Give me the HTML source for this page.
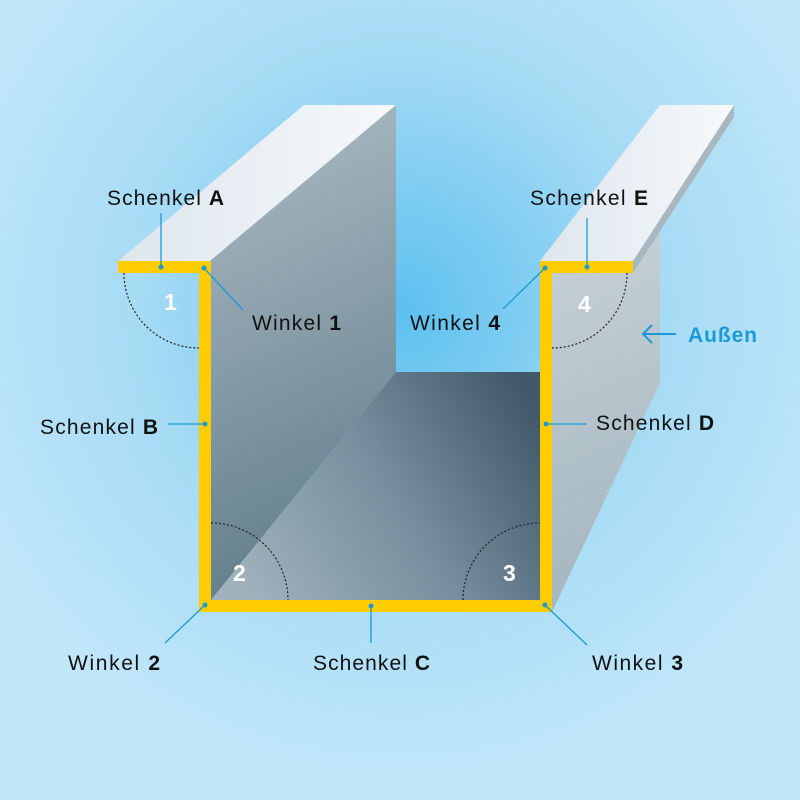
<!DOCTYPE html>
<html><head><meta charset="utf-8"><style>
html,body{margin:0;padding:0}
body{width:800px;height:800px;overflow:hidden}
text{font-family:"Liberation Sans",sans-serif;font-size:21px;fill:#111}
</style></head><body>
<svg width="800" height="800" viewBox="0 0 800 800">
<defs>
<radialGradient id="bg" cx="400" cy="310" r="470" gradientUnits="userSpaceOnUse">
<stop offset="0" stop-color="#5cc0ef"/><stop offset="0.55" stop-color="#a6dbf5"/><stop offset="1" stop-color="#c0e6f9"/></radialGradient>
<linearGradient id="top" x1="0" y1="0" x2="1" y2="0"><stop offset="0" stop-color="#dde6ec"/><stop offset="1" stop-color="#f7f9fb"/></linearGradient>
<linearGradient id="wall" x1="211" y1="150" x2="396" y2="560" gradientUnits="userSpaceOnUse"><stop offset="0" stop-color="#a7b8c0"/><stop offset="1" stop-color="#5f7b89"/></linearGradient>
<linearGradient id="floor" x1="250" y1="600" x2="540" y2="420" gradientUnits="userSpaceOnUse"><stop offset="0" stop-color="#9fb2bc"/><stop offset="0.5" stop-color="#7890a0"/><stop offset="1" stop-color="#42596a"/></linearGradient>
<linearGradient id="outer" x1="552" y1="280" x2="660" y2="560" gradientUnits="userSpaceOnUse"><stop offset="0" stop-color="#c2ced4"/><stop offset="1" stop-color="#a5b7c0"/></linearGradient>
</defs>
<rect width="800" height="800" fill="url(#bg)"/>
<polygon points="118,261 210,261 396,105 304,105" fill="url(#top)"/>
<polygon points="210,261 396,105 396,372 211,600" fill="url(#wall)"/>
<polygon points="211,600 396,372 540,372 540,600" fill="url(#floor)"/>
<polygon points="552,273 633,273 660,232 660,383 552,612" fill="url(#outer)"/>
<polygon points="633,261 734,105 734,117 633,273" fill="#a9b8c0"/>
<polygon points="540,261 633,261 734,105 660,105" fill="url(#top)"/>
<g fill="#ffcc00">
<rect x="118" y="261" width="93" height="12"/>
<rect x="199" y="261" width="12" height="351"/>
<rect x="199" y="600" width="353" height="12"/>
<rect x="540" y="261" width="12" height="351"/>
<rect x="540" y="261" width="93" height="12"/>
</g>
<g fill="none" stroke="#222" stroke-width="1.2" stroke-dasharray="2,2">
<path d="M124,273 A75,75 0 0 0 199,348"/>
<path d="M211,523 A77,77 0 0 1 288,600"/>
<path d="M463,600 A77,77 0 0 1 540,523"/>
<path d="M627,273 A75,75 0 0 1 552,348"/>
</g>
<g style="font-size:23px">
<text x="164" y="310" style="fill:#fff;font-weight:bold;font-size:23px">1</text>
<text x="233" y="581" style="fill:#fff;font-weight:bold;font-size:23px">2</text>
<text x="503" y="581" style="fill:#fff;font-weight:bold;font-size:23px">3</text>
<text x="578" y="312" style="fill:#fff;font-weight:bold;font-size:23px">4</text>
</g>
<g stroke="#1a9ad6" stroke-width="1.3">
<line x1="161" y1="213" x2="161" y2="267"/>
<line x1="204" y1="268" x2="243" y2="310"/>
<line x1="168" y1="424" x2="205" y2="424"/>
<line x1="587" y1="218" x2="587" y2="267"/>
<line x1="545" y1="268" x2="503" y2="309"/>
<line x1="546" y1="424" x2="587" y2="424"/>
<line x1="205" y1="605" x2="165" y2="643"/>
<line x1="371" y1="606" x2="371" y2="643"/>
<line x1="545" y1="605" x2="587" y2="645"/>
<line x1="643" y1="334" x2="676" y2="334" stroke-width="2"/>
<polyline points="652,325 643,334 652,343" fill="none" stroke-width="2"/>
</g>
<g fill="#1a9ad6">
<circle cx="161" cy="267" r="2.5"/><circle cx="204" cy="268" r="2.5"/><circle cx="205" cy="424" r="2.5"/>
<circle cx="587" cy="267" r="2.5"/><circle cx="545" cy="268" r="2.5"/><circle cx="546" cy="424" r="2.5"/>
<circle cx="205" cy="605" r="2.5"/><circle cx="371" cy="606" r="2.5"/><circle cx="545" cy="605" r="2.5"/>
</g>
<text x="107" y="205" textLength="117" lengthAdjust="spacing">Schenkel <tspan font-weight="bold">A</tspan></text>
<text x="252" y="330" textLength="89" lengthAdjust="spacing">Winkel <tspan font-weight="bold">1</tspan></text>
<text x="40" y="434" textLength="118" lengthAdjust="spacing">Schenkel <tspan font-weight="bold">B</tspan></text>
<text x="530" y="205" textLength="118" lengthAdjust="spacing">Schenkel <tspan font-weight="bold">E</tspan></text>
<text x="410" y="330" textLength="90" lengthAdjust="spacing">Winkel <tspan font-weight="bold">4</tspan></text>
<text x="596" y="430" textLength="118" lengthAdjust="spacing">Schenkel <tspan font-weight="bold">D</tspan></text>
<text x="68" y="670" textLength="92" lengthAdjust="spacing">Winkel <tspan font-weight="bold">2</tspan></text>
<text x="313" y="670" textLength="117" lengthAdjust="spacing">Schenkel <tspan font-weight="bold">C</tspan></text>
<text x="592" y="670" textLength="91" lengthAdjust="spacing">Winkel <tspan font-weight="bold">3</tspan></text>
<text x="688" y="342" textLength="69" lengthAdjust="spacing" style="fill:#1a9ad6;font-weight:bold">Außen</text>
</svg>
</body></html>
